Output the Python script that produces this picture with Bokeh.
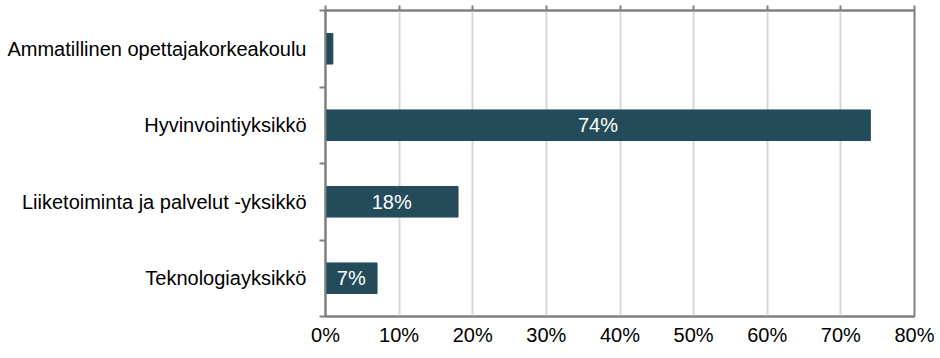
import numpy as np
from bokeh.plotting import figure
from bokeh.models import Range1d, LinearAxis, FixedTicker, PrintfTickFormatter, ColumnDataSource, Grid
from bokeh.core.properties import value
from bokeh.embed import file_html
from bokeh.resources import INLINE

categories = ["Ammatillinen opettajakorkeakoulu", "Hyvinvointiyksikkö",
              "Liiketoiminta ja palvelut -yksikkö", "Teknologiayksikkö"]
shares = [1, 74, 18, 7]
value_labels = ["", "74%", "18%", "7%"]
x_ticks = [0, 10, 20, 30, 40, 50, 60, 70, 80]

n = len(categories)
ypos = [n - 1 - i + 0.5 for i in range(n)]
src = ColumnDataSource(dict(cat=categories, share=shares, y=ypos))
keep = [i for i, l in enumerate(value_labels) if l]
lab_src = ColumnDataSource(dict(x=[shares[i] / 2 for i in keep], y=[ypos[i] for i in keep],
                                lab=[value_labels[i] for i in keep]))

FONT = "Liberation Sans"
FS = "20px"
AX = "#808080"

p = figure(width=940, height=358, output_backend="svg", toolbar_location=None,
           x_range=Range1d(0, 80), y_range=Range1d(0, n),
           min_border_left=325, min_border_right=26, min_border_top=10, min_border_bottom=42,
           x_axis_location=None, y_axis_location=None)
p.outline_line_color = AX
p.outline_line_width = 2
p.background_fill_color = "white"
p.border_fill_color = "white"
p.xgrid.visible = False
p.ygrid.visible = False

g = Grid(dimension=0, ticker=FixedTicker(ticks=x_ticks[1:-1]))
g.grid_line_color = "#d9d9d9"
g.grid_line_width = 2
p.add_layout(g)

p.hbar(y="y", right="share", left=0, height=0.40, source=src, color="#244b5a")
p.text(x="x", y="y", text="lab", source=lab_src, text_color="white",
       text_font=value(FONT), text_font_size=FS, text_align="center", text_baseline="middle")

# bottom axis
xb = LinearAxis(ticker=FixedTicker(ticks=x_ticks), formatter=PrintfTickFormatter(format="%d%%"))
xb.axis_line_color = AX
xb.axis_line_width = 2
xb.major_tick_line_color = None
xb.major_tick_out = 0
xb.major_tick_in = 0
xb.minor_tick_line_color = None
xb.major_label_text_font = FONT
xb.major_label_text_font_size = FS
xb.major_label_text_color = "black"
xb.major_label_standoff = 7
p.add_layout(xb, "below")

# top axis (ticks only)
xt = LinearAxis(ticker=FixedTicker(ticks=x_ticks))
xt.major_label_overrides = {t: "" for t in x_ticks}
xt.axis_line_color = AX
xt.axis_line_width = 2
xt.major_tick_line_color = AX
xt.major_tick_line_width = 2
xt.major_tick_out = 5
xt.major_tick_in = 0
xt.minor_tick_line_color = None
xt.major_label_text_font_size = "1px"
xt.major_label_standoff = 0
p.add_layout(xt, "above")

# left axis
yl = LinearAxis(ticker=FixedTicker(ticks=ypos, minor_ticks=list(range(n + 1))))
yl.major_label_overrides = {y: c for y, c in zip(ypos, categories)}
yl.axis_line_color = AX
yl.axis_line_width = 2
yl.major_tick_line_color = None
yl.major_tick_out = 0
yl.major_tick_in = 0
yl.minor_tick_line_color = AX
yl.minor_tick_line_width = 2
yl.minor_tick_out = 6
yl.minor_tick_in = 0
yl.major_label_text_font = FONT
yl.major_label_text_font_size = FS
yl.major_label_text_color = "black"
yl.major_label_standoff = 13
p.add_layout(yl, "left")

open("out.html", "w").write(file_html(p, INLINE))
